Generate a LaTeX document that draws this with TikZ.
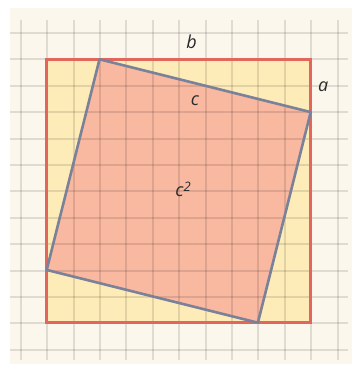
\documentclass[tikz,border=0pt]{standalone}
\usepackage{fontspec}
\setmainfont{Open Sans}
\definecolor{cream}{HTML}{FCF7EC}
\definecolor{yel}{HTML}{FDEBB8}
\definecolor{salmon}{HTML}{F9B8A0}
\definecolor{redb}{HTML}{E2665C}
\definecolor{edgeb}{HTML}{7A8199}
\definecolor{txt}{HTML}{2A2A2A}
\tikzset{
  gridline/.style={black,opacity=0.11,line width=2pt},
  lbl/.style={text=txt,font=\itshape\fontsize{18}{18}\selectfont,inner sep=0pt}
}
\begin{document}
\begin{tikzpicture}[x=1pt,y=-1pt]
\useasboundingbox (0,0) rectangle (352,372);
\fill[white] (0,0) rectangle (352,372);
\fill[cream] (10,8) rectangle (352,364);
% outer square corners
\coordinate (A) at (46.7,59.3);
\coordinate (B) at (310.7,59.3);
\coordinate (C) at (310.7,322.7);
\coordinate (D) at (46.7,322.7);
% tilted square vertices
\coordinate (P) at (99.5,59.3);
\coordinate (Q) at (310.7,112.1);
\coordinate (R) at (257.9,322.7);
\coordinate (S) at (46.7,269.9);
\fill[yel] (A) rectangle (C);
\fill[salmon] (P) -- (Q) -- (R) -- (S) -- cycle;
% grid
\foreach \i in {0,...,12} {
  \draw[gridline] (20.7+26.4*\i,20) -- (20.7+26.4*\i,360);
  \draw[gridline] (10,32.9+26.4*\i) -- (348,32.9+26.4*\i);
}
\draw[redb,line width=3.5pt] (A) -- (B) -- (C) -- (D) -- cycle;
\draw[edgeb,line width=2.6pt,line join=round] (P) -- (Q) -- (R) -- (S) -- cycle;
\node[lbl] (lb) at (191.5,42) {b};
\node[lbl] (la) at (323.3,87) {a};
\node[lbl] (lc) at (195,101) {c};
\node[lbl] (lc2) at (183,189) {c\raisebox{0.5ex}{\fontsize{13}{13}\selectfont 2}};
\end{tikzpicture}
\end{document}
